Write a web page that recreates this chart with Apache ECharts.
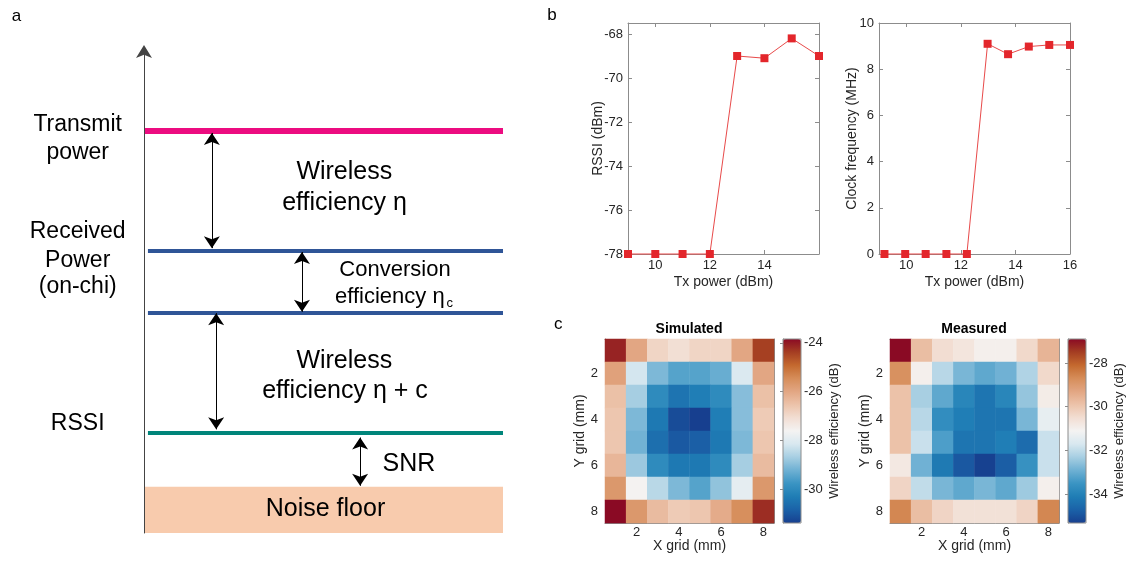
<!DOCTYPE html>
<html><head><meta charset="utf-8">
<script src="https://cdn.jsdelivr.net/npm/echarts@6/dist/echarts.min.js"></script>
<style>html,body{margin:0;padding:0;background:#fff}#c{width:1130px;height:567px}</style>
</head><body><div id="c"></div>
<script>
// ================= DATA =================
// Panel b (left): RSSI vs Tx power
const txPowerRssi = [9, 10, 11, 12, 13, 14, 15, 16];
const rssiValues  = [-78, -78, -78, -78, -69.0, -69.1, -68.2, -69.0];
const rssiYTicks  = [-78, -76, -74, -72, -70, -68];
const rssiXTicks  = [10, 12, 14];
// Panel b (right): clock frequency vs Tx power
const txPowerClock = [9.2, 9.96, 10.71, 11.47, 12.22, 12.98, 13.73, 14.49, 15.24, 16];
const clockValues  = [0, 0, 0, 0, 0, 9.1, 8.65, 8.98, 9.05, 9.05];
const clockYTicks  = [0, 2, 4, 6, 8, 10];
const clockXTicks  = [10, 12, 14, 16];
// Panel c: wireless efficiency maps (rows: Y grid 1..8, cols: X grid 1..8), dB
const gridCategories = ['1', '2', '3', '4', '5', '6', '7', '8'];
const simulated = [
  [-24.1, -26.0, -26.9, -27.1, -26.9, -26.9, -26.0, -24.4],
  [-25.9, -28.2, -29.1, -29.5, -29.5, -29.3, -28.1, -26.0],
  [-26.5, -28.7, -30.0, -30.5, -30.3, -30.0, -29.0, -26.5],
  [-26.6, -29.1, -30.4, -31.2, -31.4, -30.3, -29.0, -26.7],
  [-26.6, -29.2, -30.6, -31.0, -30.9, -30.4, -29.1, -26.6],
  [-26.3, -28.8, -30.0, -30.4, -30.4, -30.0, -28.7, -26.4],
  [-25.7, -27.6, -28.5, -29.1, -29.5, -28.9, -27.9, -25.7],
  [-23.8, -25.7, -26.4, -26.7, -26.6, -26.1, -25.5, -24.2]
];
const measured = [
  [-26.9, -29.8, -30.5, -30.7, -31.0, -31.0, -30.4, -29.6],
  [-28.8, -31.0, -32.1, -32.8, -33.1, -32.9, -32.2, -30.4],
  [-29.9, -32.3, -33.1, -33.9, -34.3, -33.9, -32.5, -30.9],
  [-29.9, -32.1, -33.7, -34.1, -34.3, -34.3, -32.8, -31.4],
  [-29.9, -31.9, -33.3, -34.3, -34.3, -34.1, -34.5, -31.9],
  [-30.8, -32.9, -34.2, -34.9, -35.3, -34.8, -33.6, -31.9],
  [-30.3, -32.0, -32.8, -33.1, -32.8, -33.1, -32.4, -31.0],
  [-28.6, -29.8, -30.3, -30.6, -30.6, -30.6, -30.3, -28.6]
];
const simRange = [-31.4, -23.84];
const meaRange = [-35.33, -26.9];
const simCbTicks = [-30, -28, -26, -24];
const meaCbTicks = [-34, -32, -30, -28];
// Panel a: schematic power levels (arbitrary units, 0 = bottom of axis)
const levelValues = [83.4, 58.57, 45.7, 20.8];   // transmit, received, converted, RSSI
const levelStart  = [0, 1.1, 1.1, 1.1];
const noiseFloorTop = 9.6;
const arrowX    = [18.9, 44.0, 20.1, 60.2];
const arrowFrom = [83.0, 58.3, 45.6, 19.8];
const arrowTo   = [59.1, 45.9, 21.5, 9.8];

// ================= STYLE =================
const FONT = 'Liberation Sans';
const AX = '#8c8c8c', TXT = '#262626';
const levelColors = ['#ec0c80', '#2f5597', '#2f5597', '#00857a'];
const levelWidths = [6, 4, 4, 4];
const cmap = ['#173f8f', '#1b62a8', '#1f7db5', '#3a94c3', '#6eb0d3', '#a6cee2', '#d8e8f0', '#f4f3f2',
              '#f2ded3', '#ecc3aa', '#e2a683', '#d68d5a', '#c4692f', '#a53e22', '#8a0a24'];

function valX(grid, min, max, ticks, pos, name) {
  return {
    gridIndex: grid, type: 'value', min: min, max: max, position: pos,
    axisLine: { show: true, onZero: false, lineStyle: { color: AX, width: 1 } },
    axisTick: { show: true, inside: true, length: 4, customValues: ticks, lineStyle: { color: AX } },
    axisLabel: { show: pos === 'bottom', customValues: ticks, color: TXT, fontSize: 13, fontFamily: FONT, margin: 5 },
    splitLine: { show: false },
    name: name || '', nameLocation: 'middle', nameGap: 21, nameMoveOverlap: false,
    nameTextStyle: { color: TXT, fontSize: 14, fontFamily: FONT }
  };
}
function valY(grid, min, max, ticks, pos, name, gap) {
  return {
    gridIndex: grid, type: 'value', min: min, max: max, position: pos,
    axisLine: { show: true, onZero: false, lineStyle: { color: AX, width: 1 } },
    axisTick: { show: true, inside: true, length: 4, customValues: ticks, lineStyle: { color: AX } },
    axisLabel: { show: pos === 'left', customValues: ticks, color: TXT, fontSize: 13, fontFamily: FONT, margin: 5 },
    splitLine: { show: false },
    name: name || '', nameLocation: 'middle', nameGap: gap || 30, nameRotate: 90, nameMoveOverlap: false,
    nameTextStyle: { color: TXT, fontSize: 14, fontFamily: FONT }
  };
}
const everyOther = (i) => i % 2 === 1;
function catX(grid, pos, name) {
  return {
    gridIndex: grid, type: 'category', data: gridCategories, position: pos,
    axisLine: { show: true, onZero: false, lineStyle: { color: AX } },
    axisTick: { show: true, inside: true, length: 3, alignWithLabel: true, interval: everyOther, lineStyle: { color: AX } },
    axisLabel: { show: pos === 'bottom', interval: everyOther, color: TXT, fontSize: 13, fontFamily: FONT, margin: 3 },
    splitLine: { show: false },
    name: name || '', nameLocation: 'middle', nameGap: 16, nameMoveOverlap: false,
    nameTextStyle: { color: TXT, fontSize: 14, fontFamily: FONT }
  };
}
function catY(grid, pos, name) {
  return {
    gridIndex: grid, type: 'category', data: gridCategories, inverse: true, position: pos,
    axisLine: { show: true, onZero: false, lineStyle: { color: AX } },
    axisTick: { show: true, inside: true, length: 3, alignWithLabel: true, interval: everyOther, lineStyle: { color: AX } },
    axisLabel: { show: pos === 'left', interval: everyOther, color: TXT, fontSize: 13, fontFamily: FONT, margin: 7 },
    splitLine: { show: false },
    name: name || '', nameLocation: 'middle', nameGap: 18, nameRotate: 90, nameMoveOverlap: false,
    nameTextStyle: { color: TXT, fontSize: 14, fontFamily: FONT }
  };
}
function cbY(grid, range, ticks) {
  return {
    gridIndex: grid, type: 'value', min: range[0], max: range[1], position: 'right',
    axisLine: { show: true, lineStyle: { color: AX } },
    axisTick: { show: true, inside: true, length: 3, customValues: ticks, lineStyle: { color: AX } },
    axisLabel: { customValues: ticks, color: TXT, fontSize: 13, fontFamily: FONT, margin: 3 },
    splitLine: { show: false },
    name: 'Wireless efficiency (dB)', nameLocation: 'middle', nameGap: 27, nameRotate: 90, nameMoveOverlap: false,
    nameTextStyle: { color: TXT, fontSize: 13, fontFamily: FONT }
  };
}
function hidden(grid, min, max) {
  return { gridIndex: grid, type: 'value', min: min, max: max, show: false, splitLine: { show: false } };
}
function txt(str, x, y, size, extra) {
  return Object.assign({ type: 'text', x: x, y: y, z: 100, silent: true,
    style: { text: str, fontSize: size, fontFamily: FONT, fill: '#000', align: 'center', verticalAlign: 'middle' } }, extra || {});
}

const toMatrix = (m) => m.flatMap((row, r) => row.map((v, c) => [c, r, v]));

const chart = echarts.init(document.getElementById('c'), null, { renderer: 'canvas' });
chart.setOption({
  animation: false,
  backgroundColor: '#fff',
  title: [
    { text: 'Simulated', left: 689, top: 322, textAlign: 'center', padding: 0,
      textStyle: { fontSize: 14, fontWeight: 'bold', color: '#000', fontFamily: FONT } },
    { text: 'Measured', left: 974, top: 322, textAlign: 'center', padding: 0,
      textStyle: { fontSize: 14, fontWeight: 'bold', color: '#000', fontFamily: FONT } }
  ],
  grid: [
    { left: 144, top: 51, width: 359, height: 482 },
    { left: 628, top: 23, width: 191, height: 231 },
    { left: 879, top: 23, width: 191, height: 231 },
    { left: 605, top: 339, width: 169, height: 184 },
    { left: 783, top: 339, width: 18, height: 184, show: true, borderColor: AX, borderWidth: 1, backgroundColor: 'transparent', z: 10 },
    { left: 890, top: 339, width: 169, height: 184 },
    { left: 1068, top: 339, width: 18, height: 184, show: true, borderColor: AX, borderWidth: 1, backgroundColor: 'transparent', z: 10 }
  ],
  xAxis: [
    hidden(0, 0, 100),
    valX(1, 9, 16, rssiXTicks, 'bottom', 'Tx power (dBm)'),
    valX(1, 9, 16, rssiXTicks, 'top'),
    valX(2, 9, 16, clockXTicks, 'bottom', 'Tx power (dBm)'),
    valX(2, 9, 16, clockXTicks, 'top'),
    catX(3, 'bottom', 'X grid (mm)'),
    catX(3, 'top'),
    hidden(4, 0, 1),
    catX(5, 'bottom', 'X grid (mm)'),
    catX(5, 'top'),
    hidden(6, 0, 1)
  ],
  yAxis: [
    { gridIndex: 0, type: 'value', min: 0, max: 100, z: 10,
      axisLine: { show: true, symbol: ['none', 'arrow'], symbolSize: [12, 13], symbolOffset: [0, 6],
        lineStyle: { color: '#444', width: 1 } },
      axisTick: { show: false }, axisLabel: { show: false }, splitLine: { show: false } },
    valY(1, -78, -67.5, rssiYTicks, 'left', 'RSSI (dBm)', 23),
    valY(1, -78, -67.5, rssiYTicks, 'right'),
    valY(2, 0, 10, clockYTicks, 'left', 'Clock frequency (MHz)', 20),
    valY(2, 0, 10, clockYTicks, 'right'),
    catY(3, 'left', 'Y grid (mm)'),
    catY(3, 'right'),
    cbY(4, simRange, simCbTicks),
    catY(5, 'left', 'Y grid (mm)'),
    catY(5, 'right'),
    cbY(6, meaRange, meaCbTicks)
  ],
  visualMap: [
    { type: 'continuous', seriesIndex: 4, min: simRange[0], max: simRange[1], calculable: false, hoverLink: false,
      orient: 'vertical', left: 783, top: 339, itemWidth: 18, itemHeight: 184, padding: 0,
      inRange: { color: cmap } },
    { type: 'continuous', seriesIndex: 5, min: meaRange[0], max: meaRange[1], calculable: false, hoverLink: false,
      orient: 'vertical', left: 1068, top: 339, itemWidth: 18, itemHeight: 184, padding: 0,
      inRange: { color: cmap } }
  ],
  series: [
    { type: 'lines', coordinateSystem: 'cartesian2d', xAxisIndex: 0, yAxisIndex: 0, silent: true, z: 3,
      symbol: ['none', 'none'],
      data: levelValues.map((v, i) => ({ coords: [[levelStart[i], v], [100, v]],
        lineStyle: { color: levelColors[i], width: levelWidths[i], opacity: 1 } })),
      markArea: { silent: true, itemStyle: { color: '#f8cbad' },
        data: [[{ coord: [0, 0] }, { coord: [100, noiseFloorTop] }]] } },
    { type: 'lines', coordinateSystem: 'cartesian2d', xAxisIndex: 0, yAxisIndex: 0, silent: true, z: 4,
      symbol: ['arrow', 'arrow'], symbolSize: 12,
      lineStyle: { color: '#000', width: 1, opacity: 1 },
      data: arrowX.map((x, i) => ({ coords: [[x, arrowFrom[i]], [x, arrowTo[i]]] })) },
    { type: 'line', xAxisIndex: 1, yAxisIndex: 1, clip: false, symbol: 'rect', symbolSize: 8,
      itemStyle: { color: '#e3262b' }, lineStyle: { color: '#e84a4a', width: 1 },
      data: txPowerRssi.map((x, i) => [x, rssiValues[i]]) },
    { type: 'line', xAxisIndex: 3, yAxisIndex: 3, clip: false, symbol: 'rect', symbolSize: 8,
      itemStyle: { color: '#e3262b' }, lineStyle: { color: '#e84a4a', width: 1 },
      data: txPowerClock.map((x, i) => [x, clockValues[i]]) },
    { type: 'heatmap', xAxisIndex: 5, yAxisIndex: 5, data: toMatrix(simulated), progressive: 0 },
    { type: 'heatmap', xAxisIndex: 8, yAxisIndex: 8, data: toMatrix(measured), progressive: 0 }
  ],
  graphic: [
    txt('a', 16.5, 16, 17),
    txt('b', 552, 15, 17),
    txt('c', 558.3, 324, 17),
    txt('Transmit', 77.7, 124.7, 23),
    txt('power', 77.7, 152.7, 23),
    txt('Received', 77.7, 231.3, 23),
    txt('Power', 77.7, 260.3, 23),
    txt('(on-chi)', 77.7, 287, 23),
    txt('RSSI', 77.7, 423.3, 23),
    txt('Wireless', 344.3, 172.5, 25),
    txt('efficiency η', 344.5, 203, 25),
    txt('Conversion', 395, 270, 22),
    { type: 'text', x: 335, y: 297.3, z: 100, silent: true,
      style: { text: 'efficiency η', fontSize: 22, fontFamily: FONT, fill: '#000', align: 'left', verticalAlign: 'middle' } },
    { type: 'text', x: 446.5, y: 303.5, z: 100, silent: true,
      style: { text: 'c', fontSize: 13, fontFamily: FONT, fill: '#000', align: 'left', verticalAlign: 'middle' } },
    txt('Wireless', 344.3, 361, 25),
    txt('efficiency η + c', 345, 391.3, 25),
    txt('SNR', 409, 464, 25),
    txt('Noise floor', 325.5, 509.5, 25)
  ]
});
</script></body></html>
